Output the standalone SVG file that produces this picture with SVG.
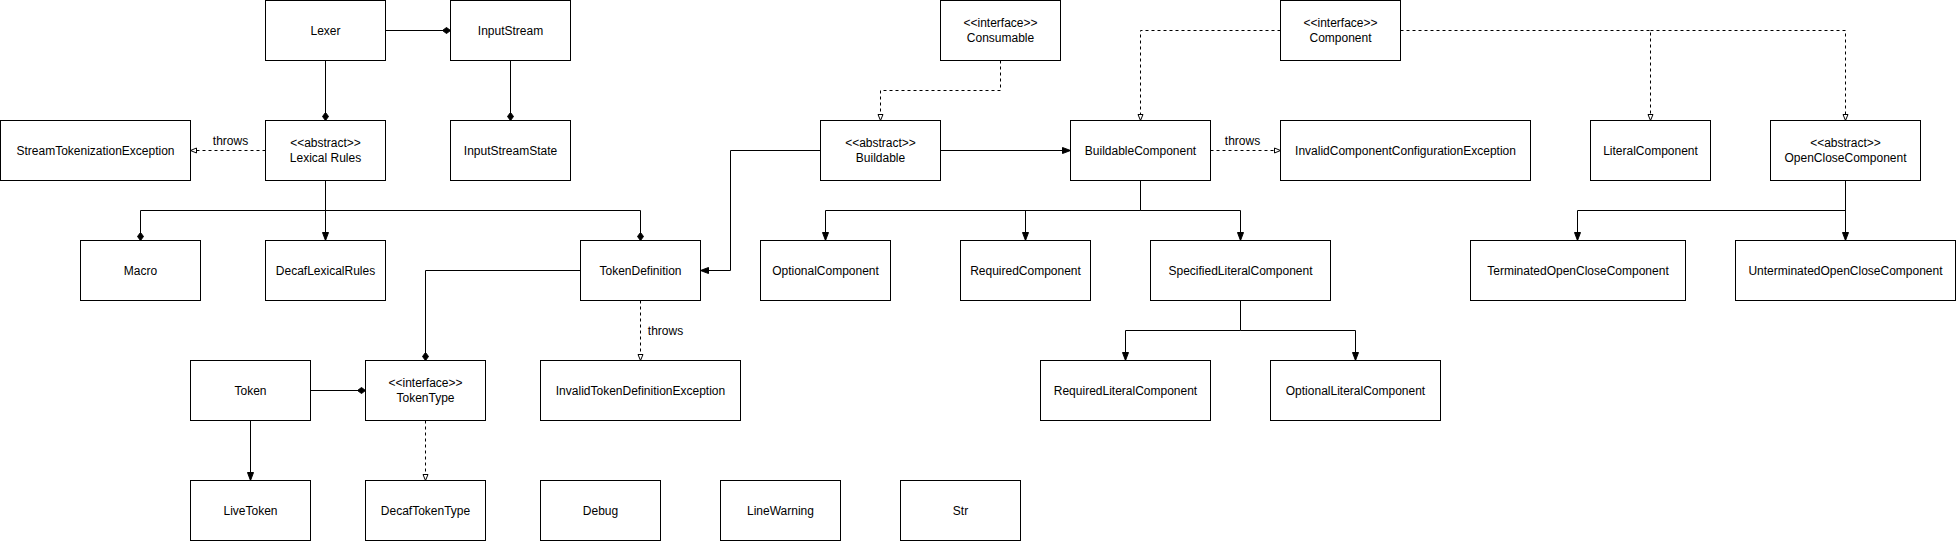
<svg xmlns="http://www.w3.org/2000/svg" width="1957" height="541" viewBox="0 0 1957 541">
<style>
.box{fill:#fff;stroke:#000;stroke-width:1}
.t{font-family:"Liberation Sans",Arial,sans-serif;font-size:12px;fill:#000;text-anchor:middle}
.ln{fill:none;stroke:#000;stroke-width:1}
.dash{stroke-dasharray:3,3}
</style>
<defs>
<marker id="arrow" viewBox="-10 -5 12 10" refX="0" refY="0" markerWidth="12" markerHeight="10" markerUnits="userSpaceOnUse" orient="auto">
<path d="M-8,-3 L0,0 L-8,3 z" fill="#000" stroke="#000" stroke-width="1" stroke-dasharray="none"/>
</marker>
<marker id="hollow" viewBox="-10 -5 12 10" refX="0" refY="0" markerWidth="12" markerHeight="10" markerUnits="userSpaceOnUse" orient="auto">
<path d="M-6,-2.5 L0,0 L-6,2.5 z" fill="#fff" stroke="#000" stroke-width="1" stroke-dasharray="none"/>
</marker>
<marker id="diamond" viewBox="-10 -5 12 10" refX="0" refY="0" markerWidth="12" markerHeight="10" markerUnits="userSpaceOnUse" orient="auto">
<path d="M-8,0 L-4,-3 L0,0 L-4,3 z" fill="#000" stroke="#000" stroke-width="1" stroke-dasharray="none"/>
</marker>
</defs>
<g transform="translate(0.5,0.5)">
<g id="connectors">
<path class="ln" d="M385,30 H450" marker-end="url(#diamond)"/>
<path class="ln" d="M325,60 V120" marker-end="url(#diamond)"/>
<path class="ln" d="M510,60 V120" marker-end="url(#diamond)"/>
<path class="ln dash" d="M265,150 H190" marker-end="url(#hollow)"/>
<path class="ln" d="M325,180 V240" marker-end="url(#arrow)"/>
<path class="ln" d="M325,210 H140 V240" marker-end="url(#diamond)"/>
<path class="ln" d="M325,210 H640 V240" marker-end="url(#diamond)"/>
<path class="ln" d="M580,270 H425 V360" marker-end="url(#diamond)"/>
<path class="ln dash" d="M640,300 V360" marker-end="url(#hollow)"/>
<path class="ln" d="M310,390 H365" marker-end="url(#diamond)"/>
<path class="ln" d="M250,420 V480" marker-end="url(#arrow)"/>
<path class="ln dash" d="M425,420 V480" marker-end="url(#hollow)"/>
<path class="ln dash" d="M1000,60 V90 H880 V120" marker-end="url(#hollow)"/>
<path class="ln" d="M820,150 H730 V270 H700" marker-end="url(#arrow)"/>
<path class="ln" d="M940,150 H1070" marker-end="url(#arrow)"/>
<path class="ln dash" d="M1210,150 H1280" marker-end="url(#hollow)"/>
<path class="ln dash" d="M1280,30 H1140 V120" marker-end="url(#hollow)"/>
<path class="ln dash" d="M1400,30 H1650 V120" marker-end="url(#hollow)"/>
<path class="ln dash" d="M1650,30 H1845 V120" marker-end="url(#hollow)"/>
<path class="ln" d="M1140,180 V210 H825 V240" marker-end="url(#arrow)"/>
<path class="ln" d="M1140,210 H1025 V240" marker-end="url(#arrow)"/>
<path class="ln" d="M1140,210 H1240 V240" marker-end="url(#arrow)"/>
<path class="ln" d="M1240,300 V330 H1125 V360" marker-end="url(#arrow)"/>
<path class="ln" d="M1240,330 H1355 V360" marker-end="url(#arrow)"/>
<path class="ln" d="M1845,180 V240" marker-end="url(#arrow)"/>
<path class="ln" d="M1845,210 H1577 V240" marker-end="url(#arrow)"/>
<text class="t" x="230" y="144">throws</text>
<text class="t" x="665" y="334">throws</text>
<text class="t" x="1242" y="144">throws</text>
</g>
<g id="lexer"><rect class="box" x="265" y="0" width="120" height="60"/><text class="t" x="325" y="34">Lexer</text></g>
<g id="inputStream"><rect class="box" x="450" y="0" width="120" height="60"/><text class="t" x="510" y="34">InputStream</text></g>
<g id="streamTokenizationException"><rect class="box" x="0" y="120" width="190" height="60"/><text class="t" x="95" y="154">StreamTokenizationException</text></g>
<g id="lexicalRules"><rect class="box" x="265" y="120" width="120" height="60"/><text class="t" x="325" y="146.5">&lt;&lt;abstract&gt;&gt;</text><text class="t" x="325" y="161.5">Lexical Rules</text></g>
<g id="inputStreamState"><rect class="box" x="450" y="120" width="120" height="60"/><text class="t" x="510" y="154">InputStreamState</text></g>
<g id="macro"><rect class="box" x="80" y="240" width="120" height="60"/><text class="t" x="140" y="274">Macro</text></g>
<g id="decafLexicalRules"><rect class="box" x="265" y="240" width="120" height="60"/><text class="t" x="325" y="274">DecafLexicalRules</text></g>
<g id="tokenDefinition"><rect class="box" x="580" y="240" width="120" height="60"/><text class="t" x="640" y="274">TokenDefinition</text></g>
<g id="token"><rect class="box" x="190" y="360" width="120" height="60"/><text class="t" x="250" y="394">Token</text></g>
<g id="tokenType"><rect class="box" x="365" y="360" width="120" height="60"/><text class="t" x="425" y="386.5">&lt;&lt;interface&gt;&gt;</text><text class="t" x="425" y="401.5">TokenType</text></g>
<g id="invalidTokenDefinitionException"><rect class="box" x="540" y="360" width="200" height="60"/><text class="t" x="640" y="394">InvalidTokenDefinitionException</text></g>
<g id="liveToken"><rect class="box" x="190" y="480" width="120" height="60"/><text class="t" x="250" y="514">LiveToken</text></g>
<g id="decafTokenType"><rect class="box" x="365" y="480" width="120" height="60"/><text class="t" x="425" y="514">DecafTokenType</text></g>
<g id="debug"><rect class="box" x="540" y="480" width="120" height="60"/><text class="t" x="600" y="514">Debug</text></g>
<g id="lineWarning"><rect class="box" x="720" y="480" width="120" height="60"/><text class="t" x="780" y="514">LineWarning</text></g>
<g id="str"><rect class="box" x="900" y="480" width="120" height="60"/><text class="t" x="960" y="514">Str</text></g>
<g id="consumable"><rect class="box" x="940" y="0" width="120" height="60"/><text class="t" x="1000" y="26.5">&lt;&lt;interface&gt;&gt;</text><text class="t" x="1000" y="41.5">Consumable</text></g>
<g id="buildable"><rect class="box" x="820" y="120" width="120" height="60"/><text class="t" x="880" y="146.5">&lt;&lt;abstract&gt;&gt;</text><text class="t" x="880" y="161.5">Buildable</text></g>
<g id="buildableComponent"><rect class="box" x="1070" y="120" width="140" height="60"/><text class="t" x="1140" y="154">BuildableComponent</text></g>
<g id="invalidComponentConfigurationException"><rect class="box" x="1280" y="120" width="250" height="60"/><text class="t" x="1405" y="154">InvalidComponentConfigurationException</text></g>
<g id="component"><rect class="box" x="1280" y="0" width="120" height="60"/><text class="t" x="1340" y="26.5">&lt;&lt;interface&gt;&gt;</text><text class="t" x="1340" y="41.5">Component</text></g>
<g id="literalComponent"><rect class="box" x="1590" y="120" width="120" height="60"/><text class="t" x="1650" y="154">LiteralComponent</text></g>
<g id="openCloseComponent"><rect class="box" x="1770" y="120" width="150" height="60"/><text class="t" x="1845" y="146.5">&lt;&lt;abstract&gt;&gt;</text><text class="t" x="1845" y="161.5">OpenCloseComponent</text></g>
<g id="optionalComponent"><rect class="box" x="760" y="240" width="130" height="60"/><text class="t" x="825" y="274">OptionalComponent</text></g>
<g id="requiredComponent"><rect class="box" x="960" y="240" width="130" height="60"/><text class="t" x="1025" y="274">RequiredComponent</text></g>
<g id="specifiedLiteralComponent"><rect class="box" x="1150" y="240" width="180" height="60"/><text class="t" x="1240" y="274">SpecifiedLiteralComponent</text></g>
<g id="terminatedOpenCloseComponent"><rect class="box" x="1470" y="240" width="215" height="60"/><text class="t" x="1577.5" y="274">TerminatedOpenCloseComponent</text></g>
<g id="unterminatedOpenCloseComponent"><rect class="box" x="1735" y="240" width="220" height="60"/><text class="t" x="1845" y="274">UnterminatedOpenCloseComponent</text></g>
<g id="requiredLiteralComponent"><rect class="box" x="1040" y="360" width="170" height="60"/><text class="t" x="1125" y="394">RequiredLiteralComponent</text></g>
<g id="optionalLiteralComponent"><rect class="box" x="1270" y="360" width="170" height="60"/><text class="t" x="1355" y="394">OptionalLiteralComponent</text></g>
</g>
</svg>
